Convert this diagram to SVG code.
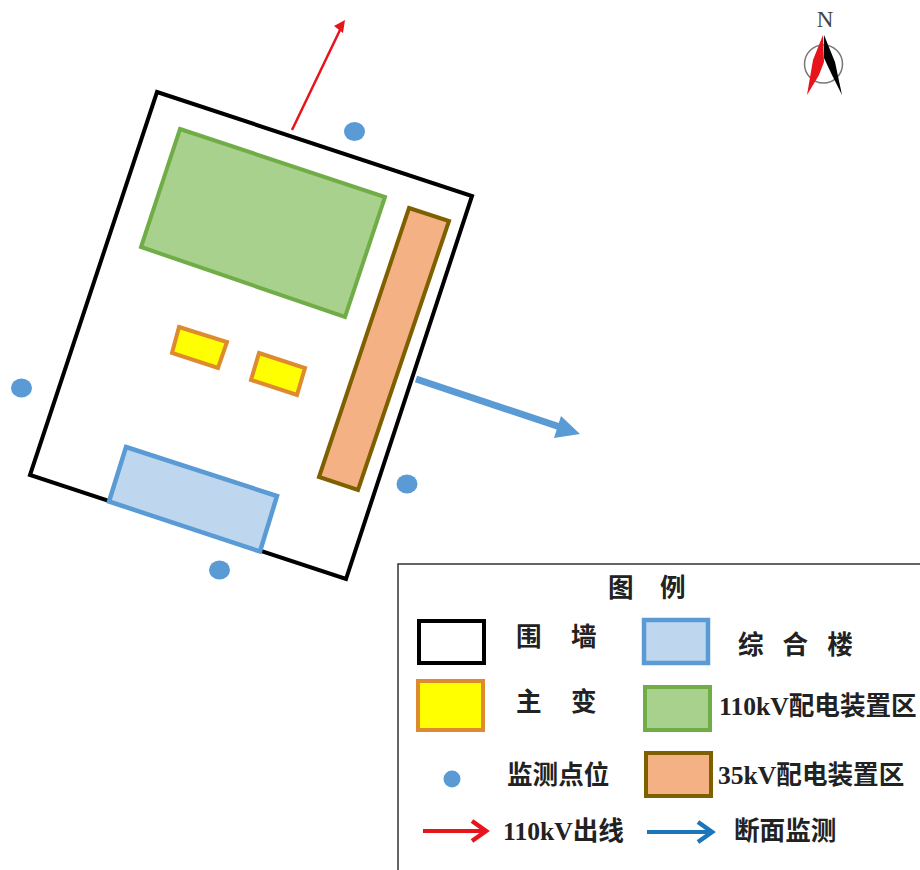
<svg xmlns="http://www.w3.org/2000/svg" width="920" height="870" viewBox="0 0 920 870">
<style>
.t{font-family:"Liberation Serif","Noto Sans CJK SC",serif;font-weight:bold;font-size:25.600px;fill:#222}
.wall{fill:#fff;stroke:#000;stroke-width:4}
.office{fill:#bfd7ee;stroke:#5b9bd5;stroke-width:4.500}
.main{fill:#ff0;stroke:#de8a2e;stroke-width:4}
.g110{fill:#a9d18e;stroke:#70ad47;stroke-width:4}
.g35{fill:#f4b183;stroke:#7f6000;stroke-width:4}
.pt{fill:#5b9bd5}
</style>
<rect width="920" height="870" fill="#fff"/>
<g id="site-wall"><polygon class="wall" points="157,92 472,196 346,579 30,475"/></g>
<g id="zone-110kv"><polygon class="g110" points="180,129 385,197 345,317 141,247"/></g>
<g id="zone-35kv"><polygon class="g35" points="409,208 449,221 358,490 319,477"/></g>
<g id="transformer-1"><polygon class="main" points="179,327 227,342 218,368 172,353"/></g>
<g id="transformer-2"><polygon class="main" points="259,353 305,368 297,395 251,380"/></g>
<g id="office-building"><polygon class="office" points="126,447 277,496 260,551.500 109,501.500"/></g>
<g id="monitor-points">
<ellipse id="point-n" class="pt" cx="354.500" cy="131.500" rx="10.500" ry="9.500"/>
<ellipse id="point-w" class="pt" cx="21.500" cy="388" rx="10.500" ry="9.500"/>
<ellipse id="point-e" class="pt" cx="407" cy="484" rx="10.500" ry="9.500"/>
<ellipse id="point-s" class="pt" cx="219.500" cy="570" rx="10.500" ry="9.500"/>
</g>
<g id="connectors">
<line x1="292" y1="130" x2="340" y2="30" stroke="#e8141c" stroke-width="2.500"/>
<polygon points="345,20 334,26 343,33" fill="#e8141c"/>
<line x1="416" y1="379" x2="560" y2="427" stroke="#5b9bd5" stroke-width="7"/>
<polygon points="580,434 561,416 554,438" fill="#5b9bd5"/>
</g>
<g id="compass">
<text x="825" y="27" font-family="'Liberation Serif',serif" font-size="23" fill="#444" text-anchor="middle">N</text>
<circle cx="823.500" cy="64" r="19" fill="none" stroke="#777" stroke-width="1.500"/>
<path d="M823 35L813 60L807 95L819 75L824 62Z" fill="#e8141c"/>
<path d="M824 35L835 62L842 95L832 75L824 58Z" fill="#000"/>
</g>
<g id="legend">
<rect x="398" y="564" width="530" height="320" fill="#fff" stroke="#333" stroke-width="1.500"/>
<text class="t" x="608" y="597">图</text>
<text class="t" x="660" y="597">例</text>
<rect class="wall" x="419" y="621" width="65" height="42"/>
<text class="t" x="516" y="646">围</text><text class="t" x="571" y="646">墙</text>
<rect class="office" x="644" y="620" width="64" height="43"/>
<text class="t" x="738" y="654" letter-spacing="19">综合楼</text>
<rect class="main" x="418" y="681" width="65" height="49"/>
<text class="t" x="516" y="711">主</text><text class="t" x="571" y="711">变</text>
<rect class="g110" x="645" y="687" width="65" height="43"/>
<text class="t" x="719" y="715">110kV配电装置区</text>
<rect class="g35" x="646" y="753" width="65" height="43"/>
<text class="t" x="507" y="784">监测点位</text>
<text class="t" x="718" y="784">35kV配电装置区</text>
<circle class="pt" cx="452" cy="779" r="8.500"/>
<path d="M423 831H484" stroke="#e8141c" stroke-width="4" fill="none"/>
<path d="M472 821L486 831L472 841" stroke="#e8141c" stroke-width="4.500" fill="none"/>
<text class="t" x="503" y="840">110kV出线</text>
<path d="M647 832H708" stroke="#1b75bb" stroke-width="4" fill="none"/>
<path d="M698 822L712 832L698 842" stroke="#1b75bb" stroke-width="4.500" fill="none"/>
<text class="t" x="734" y="840">断面监测</text>
</g>
</svg>
